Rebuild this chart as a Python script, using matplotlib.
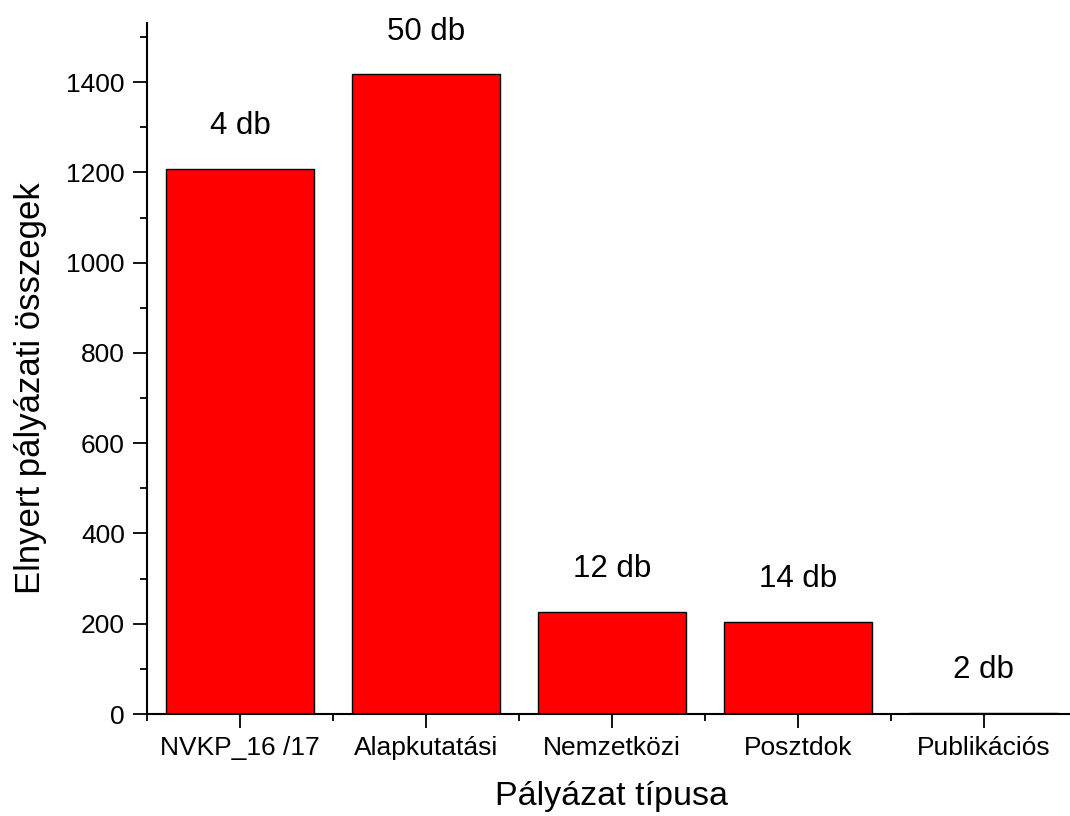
import matplotlib
import matplotlib.pyplot as plt
from matplotlib.ticker import MultipleLocator, FixedLocator

matplotlib.use("Agg")

# data
categories = ["NVKP_16 /17", "Alapkutatási", "Nemzetközi", "Posztdok", "Publikációs"]
amounts = [1207, 1417, 226, 204, 2]
counts = ["4 db", "50 db", "12 db", "14 db", "2 db"]

plt.rcParams["font.family"] = ["Liberation Sans", "DejaVu Sans"]

fig = plt.figure(figsize=(10.7, 8.16), dpi=100)
ax = fig.add_axes([0.1374, 0.125, 0.869, 0.8468])

x = list(range(1, len(categories) + 1))
ax.bar(x, amounts, width=0.8, color="#ff0000", edgecolor="black", linewidth=1.0)

for xi, val, lab in zip(x, amounts, counts):
    ax.annotate(lab, (xi, val), xytext=(0, 20), textcoords="offset points",
                ha="center", va="bottom", fontsize=22.5)

ax.set_xlim(0.5, 5.5)
ax.set_ylim(0, 1531)

ax.set_xticks(x)
ax.set_xticklabels(categories)
ax.xaxis.set_minor_locator(FixedLocator([i + 0.5 for i in range(0, 6)]))
ax.yaxis.set_major_locator(MultipleLocator(200))
ax.yaxis.set_minor_locator(MultipleLocator(100))
ax.set_yticks(range(0, 1401, 200))

ax.tick_params(which="major", direction="out", length=10, width=1.3,
               labelsize=19, pad=6)
ax.tick_params(which="minor", direction="out", length=5, width=1.3)

for side in ["top", "right"]:
    ax.spines[side].set_visible(False)
for side in ["left", "bottom"]:
    ax.spines[side].set_linewidth(1.5)

ax.set_ylabel("Elnyert pályázati összegek", fontsize=25)
ax.set_xlabel("Pályázat típusa", fontsize=24.5, va="top")
ax.yaxis.set_label_coords(-0.108, 0.471)
ax.xaxis.set_label_coords(0.5, -0.097)

fig.savefig("out.png", dpi=100)
